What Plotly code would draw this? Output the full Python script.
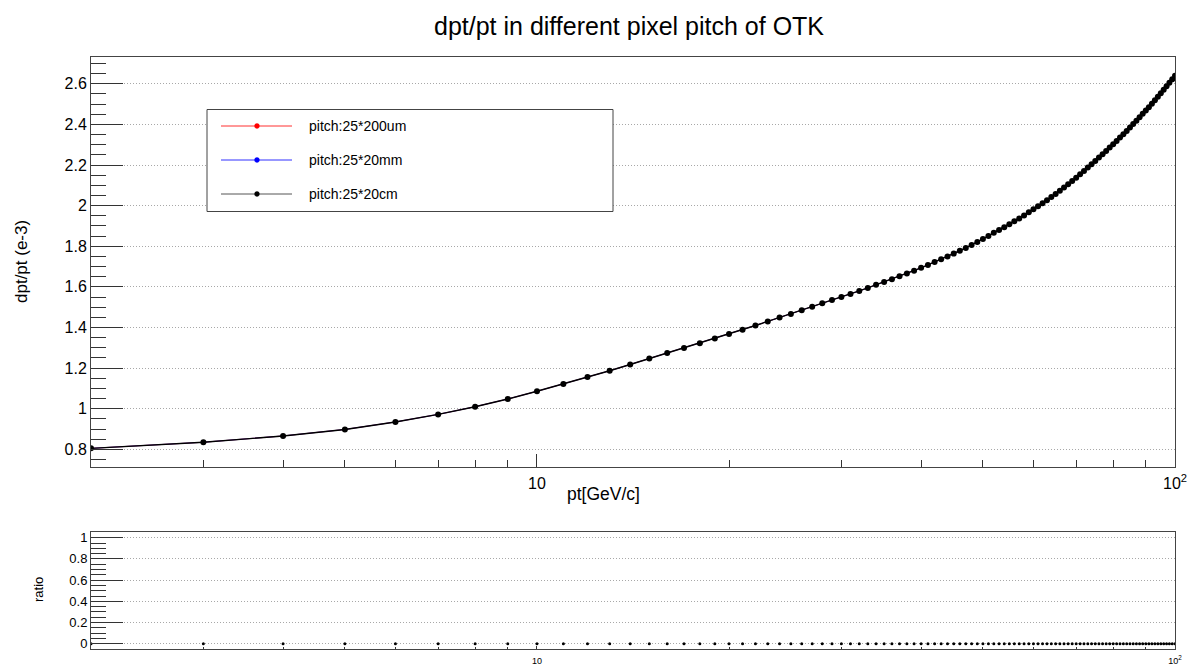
import plotly.graph_objects as go

# transverse momentum points [GeV/c]
pt = list(range(2, 101))

# relative momentum resolution dpt/pt (units of 1e-3)
resolution = [
    0.805, 0.835, 0.866, 0.898, 0.935, 0.972, 1.010, 1.048, 1.086,          # 2-10
    1.122, 1.156, 1.187, 1.218, 1.247, 1.274, 1.299, 1.323, 1.346, 1.368,   # 11-20
    1.389, 1.410, 1.430, 1.449, 1.467, 1.485, 1.502, 1.519, 1.535, 1.550,   # 21-30
    1.565, 1.580, 1.595, 1.610, 1.624, 1.638, 1.652, 1.666, 1.680, 1.694,   # 31-40
    1.708, 1.722, 1.736, 1.750, 1.764, 1.778, 1.792, 1.806, 1.821, 1.836,   # 41-50
    1.851, 1.866, 1.880, 1.894, 1.908, 1.923, 1.937, 1.952, 1.967, 1.982,   # 51-60
    1.997, 2.012, 2.027, 2.043, 2.058, 2.073, 2.089, 2.105, 2.121, 2.138,   # 61-70
    2.155, 2.171, 2.188, 2.204, 2.220, 2.237, 2.253, 2.269, 2.286, 2.302,   # 71-80
    2.318, 2.335, 2.352, 2.368, 2.385, 2.402, 2.418, 2.435, 2.452, 2.468,   # 81-90
    2.485, 2.502, 2.519, 2.536, 2.553, 2.571, 2.588, 2.605, 2.622, 2.640,   # 91-100
]

# the three pitch configurations give identical curves
series_names = ["pitch:25*200um", "pitch:25*20mm", "pitch:25*20cm"]
series_colors = ["#ff0000", "#0000ff", "#000000"]
series_values = [resolution, resolution, resolution]

# ratio between configurations
ratio = [0.0] * len(pt)

main_ticks = [0.8, 1.0, 1.2, 1.4, 1.6, 1.8, 2.0, 2.2, 2.4, 2.6]
main_ticktext = ["0.8", "1", "1.2", "1.4", "1.6", "1.8", "2", "2.2", "2.4", "2.6"]
ratio_ticks = [0, 0.2, 0.4, 0.6, 0.8, 1.0]
ratio_ticktext = ["0", "0.2", "0.4", "0.6", "0.8", "1"]
x_major = [10, 100]
x_major_text = ["10", "10<sup>2</sup>"]
x_minor = [3, 4, 5, 6, 7, 8, 9, 20, 30, 40, 50, 60, 70, 80, 90]

W, H = 1204, 670
L, R, T, B = 91, 29, 57, 21
FONT = "Liberation Sans, Arial, Helvetica, sans-serif"
GRID = dict(showgrid=True, gridcolor="#a8a8a8", griddash="1px,2px", gridwidth=1)


def px_x(px):
    return (px - L) / (W - L - R)


def px_y(py):
    return (H - B - py) / (H - T - B)


fig = go.Figure()

# red and blue curves sit underneath the black one; the black curve is drawn
# last and slightly heavier so it hides them completely
for name, color, vals in zip(series_names, series_colors, series_values):
    top = color == "#000000"
    fig.add_trace(go.Scatter(
        x=pt, y=vals, mode="lines+markers", name=name,
        line=dict(color=color, width=1.4 if top else 0.6),
        marker=dict(color=color, size=6 if top else 4),
        xaxis="x", yaxis="y", showlegend=False,
    ))

fig.add_trace(go.Scatter(
    x=pt, y=ratio, mode="markers", name="ratio",
    marker=dict(color="black", size=3),
    xaxis="x2", yaxis="y2", showlegend=False,
))

axis_common = dict(
    showline=True, linecolor="#444", linewidth=1, mirror=True,
    zeroline=False, ticks="inside", tickcolor="#333", automargin=False,
)

fig.update_layout(
    width=W, height=H,
    margin=dict(l=L, r=R, t=T, b=B),
    paper_bgcolor="white", plot_bgcolor="white",
    font=dict(family=FONT, color="black"),
    xaxis=dict(
        type="log", range=[0.30103, 2], domain=[0, 1], anchor="y",
        tickmode="array", tickvals=x_major, ticktext=x_major_text,
        ticklen=13, tickfont=dict(size=16), showgrid=False,
        ticklabelstandoff=2,
        minor=dict(tickmode="array", tickvals=x_minor, ticklen=7,
                   ticks="inside", tickcolor="#333", showgrid=False),
        **axis_common,
    ),
    yaxis=dict(
        range=[0.713, 2.732], domain=[0.3074, 1], anchor="x",
        tickmode="array", tickvals=main_ticks, ticktext=main_ticktext,
        ticklen=32, tickfont=dict(size=16),
        minor=dict(dtick=0.05, tick0=0, ticklen=15, ticks="inside",
                   tickcolor="#333", showgrid=False),
        **GRID, **axis_common,
    ),
    xaxis2=dict(
        type="log", range=[0.30103, 2], domain=[0, 1], anchor="y2",
        tickmode="array", tickvals=x_major, ticktext=x_major_text,
        ticklen=3, tickfont=dict(size=9), showgrid=False,
        ticklabelstandoff=3,
        minor=dict(tickmode="array", tickvals=x_minor, ticklen=2,
                   ticks="inside", tickcolor="#333", showgrid=False),
        **axis_common,
    ),
    yaxis2=dict(
        range=[-0.05, 1.051], domain=[0, 0.1971], anchor="x2",
        tickmode="array", tickvals=ratio_ticks, ticktext=ratio_ticktext,
        ticklen=32, tickfont=dict(size=13),
        minor=dict(dtick=0.05, tick0=0, ticklen=15, ticks="inside",
                   tickcolor="#333", showgrid=False),
        **GRID, **axis_common,
    ),
)

annotations = [
    dict(text="dpt/pt in different pixel pitch of OTK", x=px_x(629), y=px_y(26),
         font=dict(size=25)),
    dict(text="pt[GeV/c]", x=px_x(603), y=px_y(494), font=dict(size=17.5)),
    dict(text="dpt/pt (e-3)", x=px_x(21), y=px_y(262), textangle=-90,
         font=dict(size=17)),
    dict(text="ratio", x=px_x(38), y=px_y(590), textangle=-90,
         font=dict(size=13)),
]

# legend box with line + marker samples
shapes = [dict(type="rect", xref="paper", yref="paper",
               x0=px_x(207), x1=px_x(613), y0=px_y(211.5), y1=px_y(109.5),
               line=dict(color="#444", width=1), fillcolor="white", layer="above")]
row_y = [126, 160, 194]
legend_line_colors = ["#ff3030", "#3030ff", "#555555"]
for name, color, lcolor, ry in zip(series_names, series_colors, legend_line_colors, row_y):
    shapes.append(dict(type="line", xref="paper", yref="paper",
                       x0=px_x(221), x1=px_x(292), y0=px_y(ry), y1=px_y(ry),
                       line=dict(color=lcolor, width=1), layer="above"))
    shapes.append(dict(type="circle", xref="paper", yref="paper",
                       x0=px_x(254.6), x1=px_x(259.4), y0=px_y(ry + 2.4), y1=px_y(ry - 2.4),
                       line=dict(color=color, width=0.5), fillcolor=color, layer="above"))
    annotations.append(dict(text=name, x=px_x(307), y=px_y(ry), xanchor="left",
                            font=dict(size=14)))

for a in annotations:
    a.setdefault("xref", "paper")
    a.setdefault("yref", "paper")
    a.setdefault("showarrow", False)
    a.setdefault("xanchor", "center")
    a.setdefault("yanchor", "middle")

fig.update_layout(annotations=annotations, shapes=shapes)

fig.write_html("out.html")
